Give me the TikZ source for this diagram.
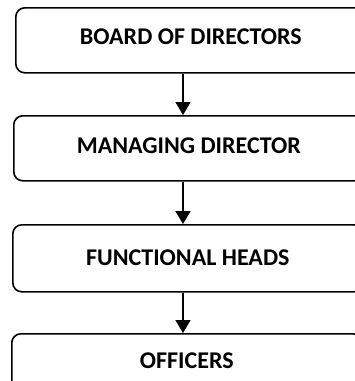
\documentclass[tikz,border=0pt]{standalone}
\usepackage{fontspec}
\setmainfont{Carlito}
\usetikzlibrary{arrows.meta}
\begin{document}
\begin{tikzpicture}[x=1pt,y=-1pt,
 box/.style={draw,line width=1.6pt,rounded corners=9pt,minimum width=350pt,inner sep=0pt,anchor=north west,font=\bfseries\fontsize{24}{29}\selectfont},
 link/.style={line width=1.6pt,-{Triangle[width=15pt,length=13pt]}}]
\useasboundingbox (0,0) rectangle (355,381);
\clip (0,0) rectangle (355,381);
\coordinate (ax) at (183,0);
\node[box,minimum height=65pt] (b1) at (15,7) {\raisebox{7pt}{BOARD OF DIRECTORS}};
\node[box,minimum height=65pt] (b2) at (13,115) {\raisebox{6pt}{MANAGING DIRECTOR}};
\node[box,minimum height=67pt] (b3) at (12,224) {\raisebox{1pt}{FUNCTIONAL HEADS}};
\node[box,minimum height=62pt] (b4) at (11,333) {\raisebox{8pt}{OFFICERS}};
\draw[link] (b1.south -| ax) -- (b2.north -| ax);
\draw[link] (b2.south -| ax) -- (b3.north -| ax);
\draw[link] (b3.south -| ax) -- (b4.north -| ax);
\end{tikzpicture}
\end{document}
